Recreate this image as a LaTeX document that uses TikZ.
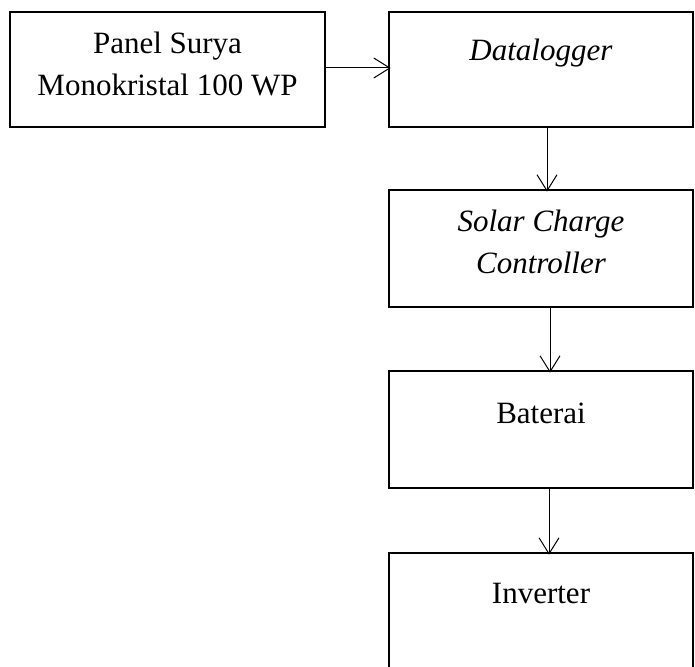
\documentclass[tikz,border=0pt]{standalone}
\usepackage{fontspec}
\setmainfont{Liberation Serif}
\usetikzlibrary{arrows.meta,positioning}
\begin{document}
\begin{tikzpicture}[x=1pt,y=-1pt]
 \tikzset{block/.style={draw, rectangle, line width=2.6pt, inner sep=0pt}}
 \tikzset{directed/.style={-{Straight Barb[length=16pt,width=20pt]}, line width=1pt, shorten >=-3pt}}
 \tikzset{txt/.style={font=\fontsize{31}{42}\selectfont, align=center, inner sep=0pt}}
  \useasboundingbox (0,0) rectangle (695,666);
  \clip (0,0) rectangle (695,666);
  \node[block, minimum width=315pt, minimum height=115pt] (P) at (167.5,69.5) {};
  \node[block, minimum width=304pt, minimum height=115pt] (D) at (541,69.5) {};
  \node[block, minimum width=304pt, minimum height=117pt] (S) at (541,248.5) {};
  \node[block, minimum width=304pt, minimum height=117pt] (B) at (541,429.5) {};
  \node[block, minimum width=304pt, minimum height=117pt] (I) at (541,611.5) {};
  \node[txt] (Pt) at (167.5,64) {Panel Surya\\Monokristal 100 WP};
  \node[txt, anchor=base] (Dt) at ([yshift=-50pt]D.north) {\textit{Datalogger}};
  \node[txt] (St) at (541,242) {\textit{Solar Charge}\\\textit{Controller}};
  \node[txt, anchor=base] (Bt) at ([yshift=-54pt]B.north) {Baterai};
  \node[txt, anchor=base] (It) at ([yshift=-52pt]I.north) {Inverter};
  \draw[directed] (P.east |- 0,68) -- (D.west |- 0,68);
  \draw[directed] ([xshift=6pt]D.south) -- ([xshift=6pt]S.north);
  \draw[directed] ([xshift=9pt]S.south) -- ([xshift=9pt]B.north);
  \draw[directed] ([xshift=8pt]B.south) -- ([xshift=8pt]I.north);
\end{tikzpicture}
\end{document}
